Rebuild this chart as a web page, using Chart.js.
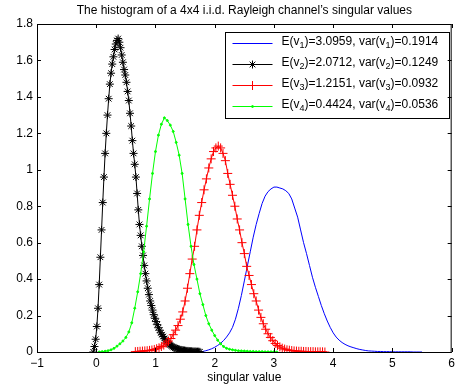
<!DOCTYPE html>
<html>
<head>
<meta charset="utf-8">
<script src="https://cdn.jsdelivr.net/npm/chart.js@4.4.0/dist/chart.umd.min.js"></script>
<style>
  html, body { margin: 0; padding: 0; background: #fff; }
  canvas { display: block; }
</style>
</head>
<body>
<canvas id="chart" width="459" height="385"></canvas>
<script>
// ejes
const xTicks = [-1, 0, 1, 2, 3, 4, 5, 6];
const yTicks = [0, 0.2, 0.4, 0.6, 0.8, 1, 1.2, 1.4, 1.6, 1.8];

// leyenda: media y varianza de cada valor singular
const means = [3.0959, 2.0712, 1.2151, 0.4424];
const variances = [0.1914, 0.1249, 0.0932, 0.0536];

// v1 (azul)
const v1X = [1.75,1.80,1.85,1.90,1.95,2.00,2.05,2.10,2.15,2.20,2.25,2.30,2.35,2.40,2.45,2.50,2.55,2.60,2.65,2.70,
  2.75,2.80,2.85,2.90,2.95,3.00,3.05,3.10,3.15,3.20,3.25,3.30,3.35,3.40,3.45,3.50,3.55,3.60,3.65,3.70,
  3.75,3.80,3.85,3.90,3.95,4.00,4.05,4.10,4.15,4.20,4.25,4.30,4.35,4.40,4.45,4.50,4.55,4.60,4.65,4.70,
  4.75,4.80,4.85,4.90,4.95,5.00,5.05,5.10,5.15,5.20,5.25,5.30,5.35,5.40,5.45,5.50];
const v1Y = [0.001,0.003,0.007,0.012,0.018,0.026,0.036,0.048,0.063,0.082,0.105,0.135,0.18,0.24,0.31,0.39,0.47,0.55,0.63,0.70,
  0.76,0.815,0.855,0.88,0.895,0.905,0.905,0.90,0.895,0.885,0.87,0.84,0.79,0.74,0.67,0.60,0.54,0.475,0.41,0.355,
  0.305,0.255,0.21,0.17,0.135,0.105,0.082,0.065,0.052,0.042,0.034,0.028,0.023,0.018,0.014,0.011,0.008,0.006,0.005,0.004,
  0.003,0.003,0.002,0.002,0.002,0.001,0.001,0.001,0.001,0.001,0.001,0.001,0,0,0,0];

// v2 (negro)
const v2X = [-0.05,-0.03,-0.01,0.01,0.03,0.05,0.07,0.09,0.11,0.13,0.15,0.17,0.19,0.21,0.23,0.25,0.27,0.29,0.31,0.33,
  0.35,0.37,0.39,0.41,0.43,0.45,0.47,0.49,0.51,0.53,0.55,0.57,0.59,0.61,0.63,0.65,0.67,0.69,0.71,0.73,
  0.75,0.77,0.79,0.81,0.83,0.85,0.87,0.89,0.91,0.93,0.95,0.97,0.99,1.01,1.03,1.05,1.07,1.09,1.11,1.13,
  1.15,1.17,1.19,1.21,1.23,1.25,1.27,1.29,1.31,1.33,1.35,1.37,1.39,1.41,1.43,1.45,1.47,1.49,1.51,1.53,
  1.55,1.57,1.59,1.61,1.63,1.65,1.67,1.69,1.71,1.73,1.75];
const v2Y = [0.0,0.03,0.07,0.14,0.24,0.37,0.52,0.67,0.82,0.96,1.09,1.20,1.30,1.39,1.47,1.53,1.58,1.62,1.66,1.69,
  1.71,1.72,1.70,1.67,1.63,1.59,1.55,1.52,1.48,1.43,1.38,1.31,1.24,1.16,1.09,1.03,0.96,0.87,0.78,0.70,
  0.64,0.58,0.53,0.475,0.43,0.39,0.35,0.315,0.28,0.255,0.23,0.205,0.185,0.167,0.15,0.133,0.12,0.105,0.095,0.085,
  0.075,0.066,0.058,0.05,0.044,0.038,0.033,0.029,0.025,0.022,0.019,0.017,0.015,0.013,0.011,0.01,0.009,0.008,0.007,0.006,
  0.006,0.005,0.004,0.004,0.003,0.003,0.003,0.002,0.002,0.002,0.001];

// v3 (rojo)
const v3X = [0.66,0.70,0.74,0.78,0.82,0.86,0.90,0.94,0.98,1.02,1.06,1.10,1.14,1.18,1.22,1.26,1.30,1.34,1.38,1.42,
  1.46,1.50,1.54,1.58,1.62,1.66,1.70,1.74,1.78,1.82,1.86,1.90,1.94,1.98,2.02,2.06,2.10,2.14,2.18,2.22,
  2.26,2.30,2.34,2.38,2.42,2.46,2.50,2.54,2.58,2.62,2.66,2.70,2.74,2.78,2.82,2.86,2.90,2.94,2.98,3.02,
  3.06,3.10,3.14,3.18,3.22,3.26,3.30,3.34,3.38,3.42,3.46,3.50,3.54,3.58,3.62,3.66,3.70,3.74,3.78,3.82,3.86];
const v3Y = [0.002,0.003,0.004,0.005,0.006,0.007,0.009,0.011,0.014,0.018,0.023,0.03,0.038,0.048,0.06,0.074,0.095,0.12,0.145,0.18,
  0.22,0.28,0.35,0.43,0.51,0.58,0.67,0.75,0.82,0.89,0.95,1.01,1.06,1.10,1.12,1.13,1.12,1.09,1.05,0.98,
  0.92,0.86,0.80,0.73,0.67,0.60,0.54,0.47,0.42,0.37,0.32,0.28,0.23,0.19,0.155,0.125,0.10,0.08,0.062,0.047,
  0.036,0.028,0.021,0.016,0.012,0.01,0.008,0.006,0.005,0.004,0.004,0.003,0.003,0.002,0.002,0.002,0.001,0.001,0.001,0.001,0.0];

// v4 (verde)
const v4X = [0.05,0.10,0.15,0.20,0.25,0.30,0.35,0.40,0.45,0.50,0.55,0.60,0.65,0.70,0.75,0.80,0.85,0.90,0.95,1.00,
  1.05,1.10,1.15,1.20,1.25,1.30,1.35,1.40,1.45,1.50,1.55,1.60,1.65,1.70,1.75,1.80,1.85,1.90,1.95,2.00,
  2.05,2.10,2.15,2.20,2.25,2.30,2.35,2.40,2.45,2.50,2.55,2.60,2.65,2.70,2.75,2.80,2.85,2.90,2.95,3.00,3.05];
const v4Y = [0.0,0.002,0.004,0.007,0.012,0.02,0.032,0.045,0.06,0.08,0.11,0.16,0.24,0.33,0.43,0.55,0.69,0.84,0.98,1.10,
  1.19,1.25,1.285,1.27,1.245,1.21,1.15,1.08,0.98,0.84,0.70,0.58,0.48,0.40,0.32,0.26,0.20,0.155,0.12,0.09,
  0.065,0.045,0.03,0.02,0.015,0.012,0.009,0.007,0.006,0.005,0.004,0.003,0.003,0.002,0.002,0.002,0.001,0.001,0.001,0.001,0.0];

const FONT = '"Liberation Sans", Arial, Helvetica, sans-serif';

function pts(xs, ys) {
  return xs.map((x, i) => ({ x: x, y: ys[i] }));
}

const series = [
  { color: '#0000ff', style: false, radius: 0 },
  { color: '#000000', style: 'star', radius: 4 },
  { color: '#ff0000', style: 'cross', radius: 4.5 },
  { color: '#00ff00', style: 'circle', radius: 1 }
];

// marco, marcas hacia dentro, título y leyenda
const matlabPlugin = {
  id: 'matlabAxes',
  afterDatasetsDraw(chart) {
    const ctx = chart.ctx;
    const a = chart.chartArea;
    const xs = chart.scales.x, ys = chart.scales.y;
    ctx.save();

    // leyenda
    const L = 225.5, R = 449.5, T = 32.5, B = 118.5;
    ctx.fillStyle = '#fff';
    ctx.fillRect(L, T, R - L, B - T);
    ctx.strokeStyle = '#000';
    ctx.lineWidth = 1;
    ctx.strokeRect(L, T, R - L, B - T);
    for (let i = 0; i < 4; i++) {
      const s = series[i];
      const ly = Math.round(T + 10 + i * 21) + 0.5;
      ctx.strokeStyle = s.color;
      ctx.fillStyle = s.color;
      ctx.lineWidth = 1;
      ctx.beginPath();
      ctx.moveTo(L + 7, ly);
      ctx.lineTo(L + 47, ly);
      ctx.stroke();
      if (s.style) {
        Chart.helpers.drawPoint(ctx, { pointStyle: s.style, radius: s.radius, rotation: 0, borderWidth: 1 }, L + 27, ly);
      }
      // texto con subíndices
      const n = String(i + 1);
      const parts = [
        ['E(v', false], [n, true], [')=' + means[i].toFixed(4) + ', var(v', false], [n, true], [')=' + variances[i].toFixed(4), false]
      ];
      let tx = L + 56;
      const ty = ly - 1.5;
      ctx.fillStyle = '#000';
      ctx.textAlign = 'left';
      ctx.textBaseline = 'middle';
      parts.forEach(([txt, sub]) => {
        ctx.font = (sub ? '9px ' : '12px ') + FONT;
        ctx.fillText(txt, tx, sub ? ty + 4 : ty);
        tx += ctx.measureText(txt).width;
      });
    }

    // marco
    ctx.strokeStyle = '#000';
    ctx.lineWidth = 1;
    ctx.strokeRect(a.left + 0.5, a.top + 0.5, a.right - a.left - 1, a.bottom - a.top);
    ctx.beginPath();
    xTicks.forEach(v => {
      const px = Math.round(xs.getPixelForValue(v)) + 0.5;
      ctx.moveTo(px, a.bottom); ctx.lineTo(px, a.bottom - 4);
      ctx.moveTo(px, a.top); ctx.lineTo(px, a.top + 4);
    });
    yTicks.forEach(v => {
      const py = Math.round(ys.getPixelForValue(v)) + 0.5;
      ctx.moveTo(a.left, py); ctx.lineTo(a.left + 4, py);
      ctx.moveTo(a.right, py); ctx.lineTo(a.right - 4, py);
    });
    ctx.stroke();

    // título
    ctx.fillStyle = '#000';
    ctx.font = '12px ' + FONT;
    ctx.textAlign = 'center';
    ctx.textBaseline = 'middle';
    ctx.fillText("The histogram of a 4x4 i.i.d. Rayleigh channel\u2019s singular values", (a.left + a.right) / 2, 11);
    ctx.restore();
  }
};

const ctx = document.getElementById('chart').getContext('2d');
new Chart(ctx, {
  type: 'line',
  data: {
    datasets: [
      { data: pts(v1X, v1Y), order: 3 },
      { data: pts(v2X, v2Y), order: 2 },
      { data: pts(v3X, v3Y), order: 1 },
      { data: pts(v4X, v4Y), order: 0 }
    ].map((d, i) => ({
      ...d,
      borderColor: series[i].color,
      backgroundColor: series[i].color,
      borderWidth: 1,
      pointStyle: series[i].style || 'circle',
      pointRadius: series[i].radius,
      pointBorderWidth: 1,
      pointBorderColor: series[i].color,
      pointBackgroundColor: series[i].color,
      tension: 0,
      fill: false
    }))
  },
  options: {
    responsive: false,
    animation: false,
    devicePixelRatio: 1,
    layout: { padding: { top: 24, right: 6, left: 0, bottom: 0 } },
    plugins: {
      legend: { display: false },
      tooltip: { enabled: false },
      title: { display: false }
    },
    scales: {
      x: {
        type: 'linear',
        min: -1,
        max: 6,
        afterBuildTicks: s => { s.ticks = xTicks.map(v => ({ value: v })); },
        afterFit: s => { s.height = 33; },
        grid: { display: false, drawTicks: false },
        border: { display: false },
        ticks: {
          color: '#000',
          font: { family: FONT, size: 12 },
          padding: 4,
          maxRotation: 0,
          autoSkip: false,
          callback: v => v < 0 ? '\u2212' + Math.abs(v) : String(v)
        },
        title: {
          display: true,
          text: 'singular value',
          color: '#000',
          font: { family: FONT, size: 12 },
          padding: { top: 0, bottom: 0 }
        }
      },
      y: {
        type: 'linear',
        min: 0,
        max: 1.8,
        afterBuildTicks: s => { s.ticks = yTicks.map(v => ({ value: v })); },
        afterFit: s => { s.width = 37; },
        grid: { display: false, drawTicks: false },
        border: { display: false },
        ticks: {
          color: '#000',
          font: { family: FONT, size: 12 },
          padding: 4,
          autoSkip: false,
          callback: v => String(Math.round(v * 10) / 10)
        }
      }
    }
  },
  plugins: [matlabPlugin]
});
</script>
</body>
</html>
